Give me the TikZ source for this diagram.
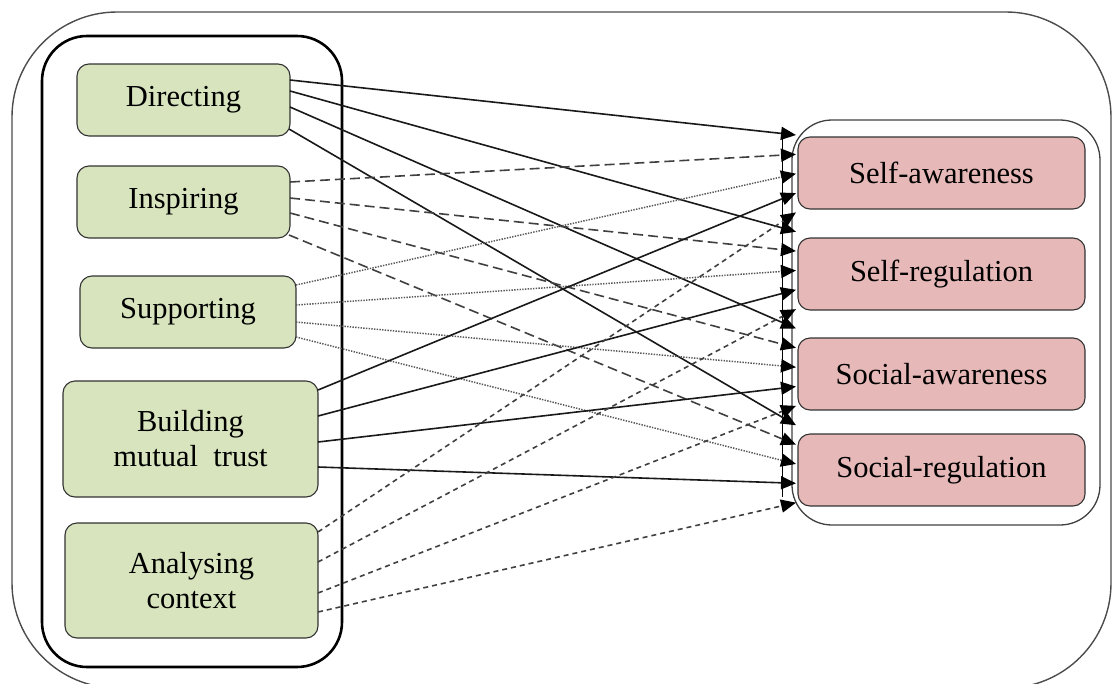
\documentclass[tikz,border=0pt]{standalone}
\usepackage{fontspec}
\setmainfont{Liberation Serif}
\usetikzlibrary{arrows.meta}
\definecolor{leafgreen}{HTML}{D7E4BD}
\definecolor{rosepink}{HTML}{E6B9B8}
\tikzset{
  box/.style={draw=black!80, line width=1.1pt, rounded corners=12pt,
    font=\fontsize{30.5}{35}\selectfont, align=center, inner sep=0pt},
  lbox/.style={box, fill=leafgreen},
  rbox/.style={box, fill=rosepink, minimum width=287pt, minimum height=72pt},
  link/.style={-{Triangle[length=15pt,width=13pt,color=black]}, line width=1.6pt},
  solidlink/.style={link, draw=black!90},
  longdash/.style={link, draw=black!75, dash pattern=on 10pt off 5pt},
  shortdash/.style={link, draw=black!75, dash pattern=on 5pt off 4pt},
  dotlink/.style={link, draw=black!65, line width=1.5pt, dash pattern=on 1.4pt off 1.3pt},
}
\begin{document}
\begin{tikzpicture}[x=1pt,y=-1pt]
\useasboundingbox (0,0) rectangle (1114,683);

% frames
\draw[line width=1.4pt, black!70, rounded corners=105pt] (12,12) rectangle (1111,688);
\draw[line width=2.6pt, rounded corners=45pt] (42,36) rectangle (342,667);
\draw[line width=1.3pt, black!75, rounded corners=40pt] (792,120) rectangle (1100,525);

% leadership behaviours
\node[lbox, minimum width=213pt, minimum height=72pt] (dir) at (183.5,100) {Directing};
\node[lbox, minimum width=213pt, minimum height=72pt] (ins) at (183.5,202) {Inspiring};
\node[lbox, minimum width=216pt, minimum height=72pt] (sup) at (188,312) {Supporting};
\node[lbox, minimum width=255pt, minimum height=116pt] (bui) at (190.5,439) {Building\\mutual\ \ trust};
\node[lbox, minimum width=253pt, minimum height=115pt] (ana) at (191.5,580.5) {Analysing\\context};

% competences
\node[rbox] (saw) at (941.5,173) {Self-awareness};
\node[rbox] (sre) at (941.5,274) {Self-regulation};
\node[rbox] (caw) at (941.5,374) {Social-awareness};
\node[rbox] (cre) at (941.5,470) {Social-regulation};

% ports on the left boxes
\coordinate (d0) at (290,80);  \coordinate (d1) at (290,91);
\coordinate (d2) at (290,107); \coordinate (d3) at (289,129);
\coordinate (i0) at (290,182); \coordinate (i1) at (290,198);
\coordinate (i2) at (290,213); \coordinate (i3) at (289,235);
\coordinate (s0) at (296,285); \coordinate (s1) at (296,305);
\coordinate (s2) at (296,322); \coordinate (s3) at (296,337);
\coordinate (b0) at (318,390); \coordinate (b1) at (318,416);
\coordinate (b2) at (318,442); \coordinate (b3) at (318,467);
\coordinate (a0) at (318,532); \coordinate (a1) at (318,562);
\coordinate (a2) at (318,593); \coordinate (a3) at (318,612);

% arrival points in front of the right boxes
\foreach \k in {0,...,19} {
  \coordinate (e\k) at (796,135+19.35*\k);
}
\draw[line width=1pt] (782,127) -- (782,497);

% links: every behaviour to every competence
\foreach \s/\st [count=\i from 0] in {d/solidlink, i/longdash, s/dotlink, b/solidlink, a/shortdash} {
  \foreach \j in {0,...,3} {
    \pgfmathtruncatemacro\k{5*\j+\i}
    \draw[\st] (\s\j) -- (e\k);
  }
}
\end{tikzpicture}
\end{document}
